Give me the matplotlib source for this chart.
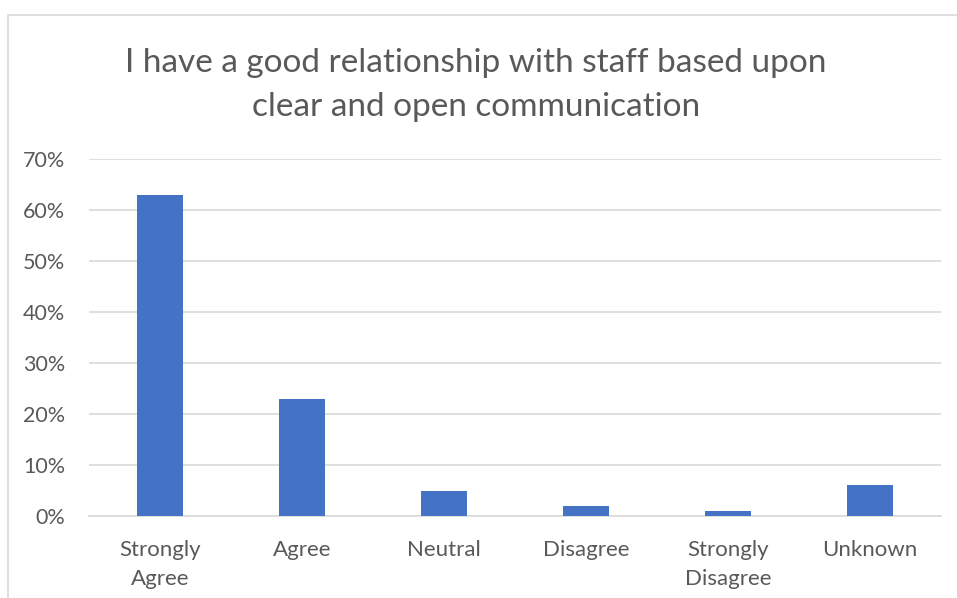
import matplotlib.pyplot as plt
import numpy as np
from matplotlib.patches import Rectangle
from matplotlib.ticker import FuncFormatter

categories = ['Strongly\nAgree', 'Agree', 'Neutral', 'Disagree', 'Strongly\nDisagree', 'Unknown']
shares = [63, 23, 5, 2, 1, 6]
y_ticks = [0, 10, 20, 30, 40, 50, 60, 70]
title = 'I have a good relationship with staff based upon\nclear and open communication'

text_color = '#595959'
grid_color = '#D9D9D9'
bar_color = '#4472C4'

plt.rcParams['font.family'] = ['Lato', 'DejaVu Sans']

fig = plt.figure(figsize=(9.57, 5.98), dpi=100)
# chart area border (only top and left edges visible in the crop)
fig.add_artist(Rectangle((8 / 957, -0.1), 1.2, 1 - 15 / 598 + 0.1, transform=fig.transFigure,
                         fill=False, edgecolor=grid_color, linewidth=1.2))

ax = fig.add_axes([89 / 957, 1 - 516 / 598, (941 - 89) / 957, (516 - 159) / 598])
x = np.arange(len(categories))
ax.bar(x, shares, width=0.32, color=bar_color, zorder=3)

ax.set_xlim(-0.5, len(categories) - 0.5)
ax.set_ylim(0, 70)
ax.set_yticks(y_ticks)
ax.yaxis.set_major_formatter(FuncFormatter(lambda v, p: '{:.0f}%'.format(v)))
ax.set_xticks(x)
ax.set_xticklabels(categories, linespacing=1.6)
ax.grid(axis='y', color=grid_color, linewidth=1.2, zorder=0)
for side in ['top', 'right', 'left']:
    ax.spines[side].set_visible(False)
ax.spines['bottom'].set_color(grid_color)
ax.spines['bottom'].set_linewidth(1.2)
ax.tick_params(axis='both', length=0, colors=text_color)
ax.tick_params(axis='x', pad=17, labelsize=16)
ax.tick_params(axis='y', pad=17, labelsize=15.5)

fig.text(0.497, 1 - 85 / 598, title, ha='center', va='center', fontsize=24,
         color=text_color, linespacing=1.55)

plt.savefig('out.png', dpi=100)
